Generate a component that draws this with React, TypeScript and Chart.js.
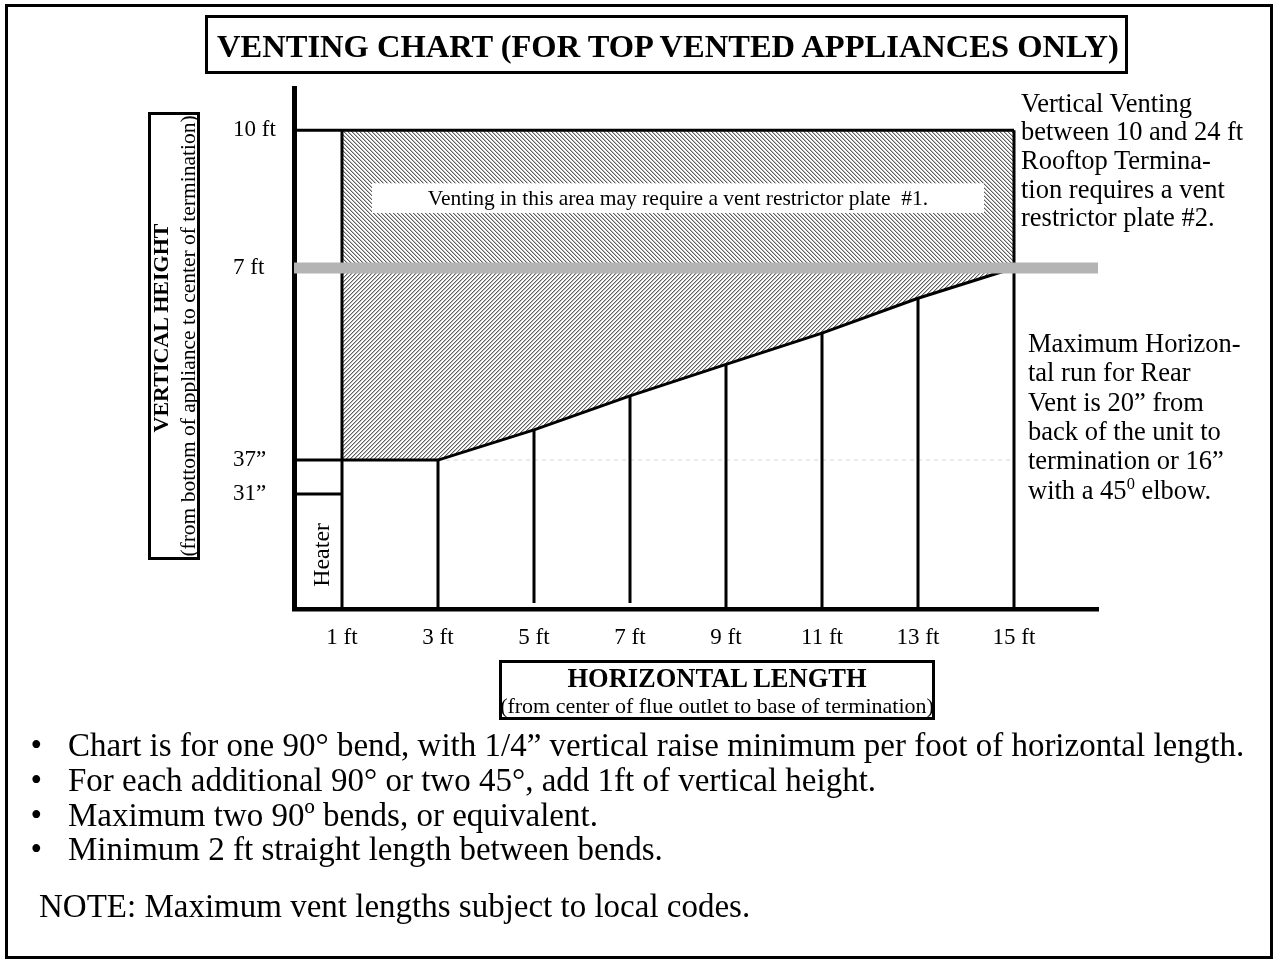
import React, { useEffect, useRef } from 'react';
import { Chart, registerables } from 'chart.js';

Chart.register(...registerables);

const SERIF = "'Liberation Serif', 'Times New Roman', Times, serif";

// ---- axes (units: feet) ----
const X_MAX = 16.75;
const Y_MAX = 10.88;
const X_TICKS = [1, 3, 5, 7, 9, 11, 13, 15];
const X_TICK_LABELS = ['1 ft', '3 ft', '5 ft', '7 ft', '9 ft', '11 ft', '13 ft', '15 ft'];
const Y_TICKS = [2.4, 3.11, 7.12, 10];
const Y_TICK_LABELS = ['31\u201D', '37\u201D', '7 ft', '10 ft'];

// ---- levels ----
const TOP_LEVEL = 10;
const RESTRICTOR_LEVEL = 7.12;
const MIN_LEVEL = 3.11;
const HEATER_TOP = 2.4;

// ---- vertical posts ----
const POST_X = [1, 3, 5, 7, 9, 11, 13, 15];
const POST_TOP = [10, 3.11, 3.74, 4.45, 5.11, 5.76, 6.49, 10];
const POST_BOTTOM = [0, 0, 0.125, 0.125, 0, 0, 0, 0];

// ---- minimum vertical height boundary ----
const BOUNDARY_X = [1, 3, 5, 7, 9, 11, 13, 15];
const BOUNDARY_Y = [3.11, 3.11, 3.74, 4.45, 5.11, 5.76, 6.49, 7.12];

// ---- texts ----
const TITLE = 'VENTING CHART (FOR TOP VENTED APPLIANCES ONLY)';
const AREA_NOTE = 'Venting in this area may require a vent restrictor plate  #1.';
const HEATER = 'Heater';
const Y_TITLE = 'VERTICAL HEIGHT';
const Y_SUBTITLE = '(from bottom of appliance to center of termination)';
const X_TITLE = 'HORIZONTAL LENGTH';
const X_SUBTITLE = '(from center of flue outlet to base of termination)';
const RIGHT_NOTE_TOP = ['Vertical Venting', 'between 10 and 24 ft', 'Rooftop Termina-', 'tion requires a vent', 'restrictor plate #2.'];
const RIGHT_NOTE_BOTTOM = ['Maximum Horizon-', 'tal run for Rear', 'Vent is 20\u201D from', 'back of the unit to', 'termination or 16\u201D'];
const RIGHT_NOTE_LAST = ['with a 45', '0', ' elbow.'];
const BULLETS = [
  'Chart is for one 90\u00B0 bend, with 1/4\u201D vertical raise minimum per foot of horizontal length.',
  'For each additional 90\u00B0 or two 45\u00B0, add 1ft of vertical height.',
  'Maximum two 90\u00BA bends, or equivalent.',
  'Minimum 2 ft straight length between bends.',
];
const NOTE = 'NOTE: Maximum vent lengths subject to local codes.';

// annotation anchors (in axis units)
const AREA_NOTE_BOX = { x0: 1.625, x1: 14.375, y0: 8.27, y1: 8.89 };
const HEATER_POS = { x: 0.6, y: 1.13 };

type TProps = { x: number; base: number; size: number; bold?: boolean; center?: boolean; children: React.ReactNode };
const T = ({ x, base, size, bold, center, children }: TProps) => (
  <div
    style={{
      position: 'absolute',
      top: base - 0.8375 * size,
      left: center ? x - 700 : x,
      width: center ? 1400 : undefined,
      textAlign: center ? 'center' : 'left',
      fontFamily: SERIF,
      fontSize: size,
      lineHeight: `${size}px`,
      fontWeight: bold ? 'bold' : 'normal',
      whiteSpace: 'pre',
      color: '#000',
    }}
  >
    {children}
  </div>
);

const boxStyle = (l: number, t: number, r: number, b: number): React.CSSProperties => ({
  position: 'absolute',
  left: l,
  top: t,
  width: r - l,
  height: b - t,
  border: '3px solid #000',
  boxSizing: 'border-box',
});

export default function App() {
  const ref = useRef<HTMLCanvasElement>(null);

  useEffect(() => {
    const canvas = ref.current;
    if (!canvas) return;
    const ctx = canvas.getContext('2d')!;

    const makePattern = (dir: 'back' | 'fwd') => {
      const c = document.createElement('canvas');
      c.width = 4;
      c.height = 4;
      const g = c.getContext('2d')!;
      const img = g.createImageData(4, 4);
      for (let yy = 0; yy < 4; yy++) {
        for (let xx = 0; xx < 4; xx++) {
          const d = dir === 'back' ? (((xx - yy) % 4) + 4) % 4 : (xx + yy) % 4;
          const v = d === 0 ? 95 : d === 1 ? 190 : 255;
          const k = (yy * 4 + xx) * 4;
          img.data[k] = v;
          img.data[k + 1] = v;
          img.data[k + 2] = v;
          img.data[k + 3] = 255;
        }
      }
      g.putImageData(img, 0, 0);
      return ctx.createPattern(c, 'repeat')!;
    };
    const hatchBack = makePattern('back');
    const hatchFwd = makePattern('fwd');

    const pts = (xs: number[], ys: number[]) => xs.map((x, i) => ({ x, y: ys[i] }));
    const black = { borderColor: '#000', borderWidth: 3, pointRadius: 0, fill: false, order: 1 };

    const posts = POST_X.map((x, i) => ({
      ...black,
      data: [
        { x, y: POST_BOTTOM[i] },
        { x, y: POST_TOP[i] },
      ],
    }));

    const overlay = {
      id: 'overlay',
      afterDatasetsDraw(chart: any) {
        const c = chart.ctx as CanvasRenderingContext2D;
        const sx = chart.scales.x;
        const sy = chart.scales.y;
        c.save();
        const bx0 = sx.getPixelForValue(AREA_NOTE_BOX.x0);
        const bx1 = sx.getPixelForValue(AREA_NOTE_BOX.x1);
        const by0 = sy.getPixelForValue(AREA_NOTE_BOX.y1);
        const by1 = sy.getPixelForValue(AREA_NOTE_BOX.y0);
        c.fillStyle = '#fff';
        c.fillRect(bx0, by0, bx1 - bx0, by1 - by0);
        c.fillStyle = '#000';
        c.font = `21.5px ${SERIF}`;
        c.textAlign = 'center';
        c.textBaseline = 'alphabetic';
        c.fillText(AREA_NOTE, (bx0 + bx1) / 2, (by0 + by1) / 2 + 7);

        c.translate(sx.getPixelForValue(HEATER_POS.x), sy.getPixelForValue(HEATER_POS.y));
        c.rotate(-Math.PI / 2);
        c.font = `24px ${SERIF}`;
        c.textBaseline = 'middle';
        c.fillText(HEATER, 0, 0);
        c.restore();
      },
    };

    const chart = new Chart(canvas, {
      type: 'line',
      data: {
        datasets: [
          {
            data: [
              { x: 0, y: RESTRICTOR_LEVEL },
              { x: X_MAX, y: RESTRICTOR_LEVEL },
            ],
            borderColor: '#b4b4b4',
            borderWidth: 11,
            pointRadius: 0,
            fill: false,
            order: 0,
          },
          { ...black, data: [{ x: 0, y: MIN_LEVEL }, ...pts(BOUNDARY_X, BOUNDARY_Y)] },
          { ...black, data: [{ x: 0, y: TOP_LEVEL }, { x: 15, y: TOP_LEVEL }] },
          { ...black, data: [{ x: 0, y: HEATER_TOP }, { x: 1, y: HEATER_TOP }] },
          ...posts,
          {
            data: [
              { x: 3, y: MIN_LEVEL },
              { x: 15, y: MIN_LEVEL },
            ],
            borderColor: '#d6d6d6',
            borderWidth: 1,
            borderDash: [4, 4],
            pointRadius: 0,
            fill: false,
            order: 2,
          },
          {
            data: [
              { x: 1, y: TOP_LEVEL },
              { x: 15, y: TOP_LEVEL },
            ],
            borderWidth: 0,
            borderColor: 'rgba(0,0,0,0)',
            backgroundColor: hatchBack,
            pointRadius: 0,
            fill: { value: RESTRICTOR_LEVEL },
            order: 3,
          },
          {
            data: pts(BOUNDARY_X, BOUNDARY_Y),
            borderWidth: 0,
            borderColor: 'rgba(0,0,0,0)',
            backgroundColor: hatchFwd,
            pointRadius: 0,
            fill: { value: RESTRICTOR_LEVEL },
            order: 3,
          },
        ] as any,
      },
      options: {
        animation: false,
        responsive: false,
        maintainAspectRatio: false,
        layout: { padding: { left: 233, right: 177, top: 88, bottom: 301 } },
        plugins: { legend: { display: false }, tooltip: { enabled: false } },
        elements: { line: { tension: 0 } },
        scales: {
          x: {
            type: 'linear',
            min: 0,
            max: X_MAX,
            grid: { display: false, drawTicks: false },
            border: { display: true, color: '#000', width: 4.5 },
            afterBuildTicks: (s: any) => {
              s.ticks = X_TICKS.map((v) => ({ value: v }));
            },
            afterFit: (s: any) => {
              s.height = 50;
            },
            ticks: {
              autoSkip: false,
              maxRotation: 0,
              minRotation: 0,
              padding: 15,
              color: '#000',
              font: { family: SERIF, size: 23 },
              callback: (_v: any, i: number) => X_TICK_LABELS[i],
            },
          },
          y: {
            type: 'linear',
            min: 0,
            max: Y_MAX,
            grid: { display: false, drawTicks: false },
            border: { display: true, color: '#000', width: 5 },
            afterBuildTicks: (s: any) => {
              s.ticks = Y_TICKS.map((v) => ({ value: v }));
            },
            afterFit: (s: any) => {
              s.width = 61;
            },
            ticks: {
              autoSkip: false,
              crossAlign: 'far',
              padding: 0,
              color: '#000',
              font: { family: SERIF, size: 23 },
              callback: (_v: any, i: number) => Y_TICK_LABELS[i],
            },
          },
        },
      } as any,
      plugins: [overlay],
    });
    return () => chart.destroy();
  }, []);

  return (
    <div style={{ position: 'absolute', left: 0, top: 0, width: 1275, height: 960, background: '#fff', overflow: 'hidden' }}>
      <canvas ref={ref} width={1275} height={960} style={{ position: 'absolute', left: 0, top: 0, width: 1275, height: 960 }} />
      {/* outer frame */}
      <div style={boxStyle(5, 4, 1273, 959)} />
      {/* title */}
      <div style={boxStyle(205, 15, 1128, 74)} />
      <T x={668} base={57} size={32.5} bold center>{TITLE}</T>
      {/* y axis title */}
      <div
        style={{
          ...boxStyle(174 - 224, 336 - 26, 174 + 224, 336 + 26),
          transform: 'rotate(-90deg)',
          transformOrigin: '50% 50%',
        }}
      >
        <div style={{ position: 'absolute', left: 8, right: -8, top: 13 - 3 - 11, textAlign: 'center', fontFamily: SERIF, fontSize: 22, lineHeight: '22px', fontWeight: 'bold', whiteSpace: 'nowrap' }}>
          {Y_TITLE}
        </div>
        <div style={{ position: 'absolute', left: 0, right: 0, top: 40 - 3 - 11, textAlign: 'center', fontFamily: SERIF, fontSize: 21.5, lineHeight: '22px', whiteSpace: 'nowrap' }}>
          {Y_SUBTITLE}
        </div>
      </div>
      {/* x axis title */}
      <div style={boxStyle(499, 660, 935, 720)} />
      <T x={717} base={687} size={26.5} bold center>{X_TITLE}</T>
      <T x={717} base={713} size={22} center>{X_SUBTITLE}</T>
      {/* right notes */}
      {RIGHT_NOTE_TOP.map((s, i) => (
        <T key={'a' + i} x={1021} base={112 + i * 28.6} size={26.5}>{s}</T>
      ))}
      {RIGHT_NOTE_BOTTOM.map((s, i) => (
        <T key={'b' + i} x={1028} base={352 + i * 29.4} size={26.5}>{s}</T>
      ))}
      <T x={1028} base={352 + 5 * 29.4} size={26.5}>
        {RIGHT_NOTE_LAST[0]}
        <span style={{ fontSize: '0.62em', verticalAlign: '0.62em', lineHeight: 0 }}>{RIGHT_NOTE_LAST[1]}</span>
        {RIGHT_NOTE_LAST[2]}
      </T>
      {/* bullets */}
      {BULLETS.map((s, i) => (
        <React.Fragment key={'c' + i}>
          <T x={30.5} base={757 + i * 34.7} size={33}>{'\u2022'}</T>
          <T x={68} base={757 + i * 34.7} size={33}>{s}</T>
        </React.Fragment>
      ))}
      <T x={39} base={918} size={33}>{NOTE}</T>
    </div>
  );
}
